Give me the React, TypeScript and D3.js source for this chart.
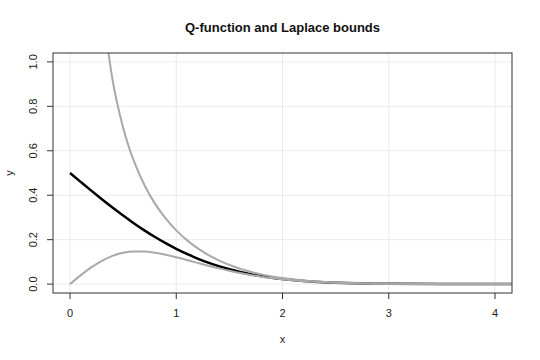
import React from "react";
import * as d3 from "d3";

const xs = [0, 0.1, 0.2, 0.3, 0.4, 0.5, 0.6, 0.7, 0.8, 0.9, 1.0, 1.1, 1.2, 1.3, 1.4, 1.5, 1.6, 1.7, 1.8, 1.9, 2.0, 2.2, 2.4, 2.6, 2.8, 3.0, 3.5, 4.0, 4.2];
const qValues = [0.5, 0.4602, 0.4207, 0.3821, 0.3446, 0.3085, 0.2743, 0.242, 0.2119, 0.1841, 0.1587, 0.1357, 0.1151, 0.0968, 0.0808, 0.0668, 0.0548, 0.0446, 0.0359, 0.0287, 0.0228, 0.0139, 0.0082, 0.0047, 0.0026, 0.0013, 0.0002, 0.00003, 0.00001];
const upperValues: (number | null)[] = [null, null, null, 1.271, 0.9207, 0.7041, 0.5554, 0.4461, 0.3621, 0.2957, 0.242, 0.198, 0.1618, 0.1318, 0.107, 0.0863, 0.0693, 0.0553, 0.0439, 0.0345, 0.027, 0.0161, 0.0093, 0.0052, 0.0028, 0.0015, 0.00025, 0.00003, 0.00001];
const lowerValues = [0, 0.0393, 0.0752, 0.105, 0.127, 0.1408, 0.147, 0.1467, 0.1413, 0.1323, 0.121, 0.1084, 0.0955, 0.0828, 0.0708, 0.0598, 0.0499, 0.0411, 0.0335, 0.0271, 0.0216, 0.0134, 0.008, 0.0046, 0.0025, 0.0013, 0.0002, 0.00003, 0.00001];
const xTicks = [0, 1, 2, 3, 4];
const yTicks = [0, 0.2, 0.4, 0.6, 0.8, 1.0];

export default function App() {
  const W = 540, H = 360;
  const left = 53, right = 512, top = 53, bottom = 293;
  const x = d3.scaleLinear().domain([-0.16, 4.16]).range([left, right]);
  const y = d3.scaleLinear().domain([-0.04, 1.04]).range([bottom, top]);
  const mk = (vals: (number | null)[]) =>
    d3
      .line<number>()
      .defined((_, i) => vals[i] !== null)
      .x((d) => x(d))
      .y((_, i) => y(vals[i] as number))
      .curve(d3.curveMonotoneX)(xs) || "";
  const font = "Liberation Sans, Arial, sans-serif";
  return (
    <svg width={W} height={H} style={{ position: "absolute", left: 0, top: 0 }} fontFamily={font}>
      <rect width={W} height={H} fill="#fff" />
      <defs>
        <clipPath id="plotclip">
          <rect x={left} y={top} width={right - left} height={bottom - top} />
        </clipPath>
      </defs>
      <g stroke="#ebebeb" strokeWidth={1}>
        {xTicks.map((t) => (
          <line key={"gx" + t} x1={x(t)} x2={x(t)} y1={top} y2={bottom} />
        ))}
        {yTicks.map((t) => (
          <line key={"gy" + t} x1={left} x2={right} y1={y(t)} y2={y(t)} />
        ))}
      </g>
      <g clipPath="url(#plotclip)" fill="none">
        <path d={mk(qValues)} stroke="#000" strokeWidth={2.5} />
        <path d={mk(upperValues)} stroke="#a9a9a9" strokeWidth={2} />
        <path d={mk(lowerValues)} stroke="#a9a9a9" strokeWidth={2} />
      </g>
      <rect x={left} y={top} width={right - left} height={bottom - top} fill="none" stroke="#333" strokeWidth={1} />
      <g stroke="#333">
        {xTicks.map((t) => (
          <line key={"tx" + t} x1={x(t)} x2={x(t)} y1={bottom} y2={bottom + 6} />
        ))}
        {yTicks.map((t) => (
          <line key={"ty" + t} x1={left} x2={left - 6} y1={y(t)} y2={y(t)} />
        ))}
      </g>
      <g fontSize={11} fill="#222">
        {xTicks.map((t) => (
          <text key={"lx" + t} x={x(t)} y={317} textAnchor="middle">
            {t}
          </text>
        ))}
        {yTicks.map((t) => (
          <text key={"ly" + t} transform={`translate(37,${y(t)}) rotate(-90)`} textAnchor="middle">
            {t.toFixed(1)}
          </text>
        ))}
      </g>
      <text x={(left + right) / 2} y={343} textAnchor="middle" fontSize={11} fill="#222">x</text>
      <text transform={`translate(13,${(top + bottom) / 2}) rotate(-90)`} textAnchor="middle" fontSize={11} fill="#222">y</text>
      <text x={(left + right) / 2} y={32} textAnchor="middle" fontSize={13} fontWeight="bold" fill="#111">
        Q-function and Laplace bounds
      </text>
    </svg>
  );
}
